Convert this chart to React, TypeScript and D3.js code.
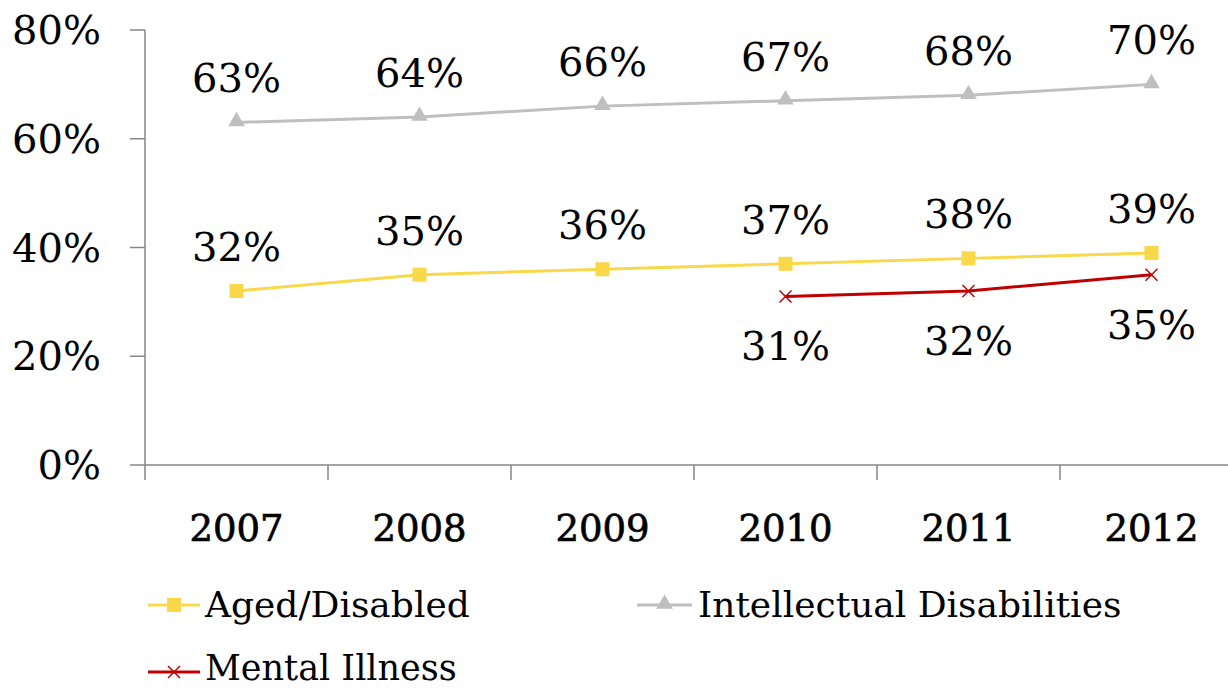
import React from "react";
import * as d3 from "d3";

const years = ["2007", "2008", "2009", "2010", "2011", "2012"];
const aged = [32, 35, 36, 37, 38, 39];
const intellectual = [63, 64, 66, 67, 68, 70];
const mentalYears = ["2010", "2011", "2012"];
const mental = [31, 32, 35];
const yTicks = [0, 20, 40, 60, 80];

const W = 1228, H = 689;
const FONT = "'DejaVu Serif', serif";

export default function App() {
  const x0 = 145, bandW = 183;
  const x = d3.scaleBand<string>().domain(years).range([x0, x0 + bandW * years.length]);
  const y = d3.scaleLinear().domain([0, 80]).range([465, 30]);
  const cx = (yr: string) => (x(yr) as number) + x.bandwidth() / 2;

  const line = d3.line<[string, number]>().x(d => cx(d[0])).y(d => y(d[1]));

  const agedPts: [string, number][] = years.map((yr, i) => [yr, aged[i]]);
  const intPts: [string, number][] = years.map((yr, i) => [yr, intellectual[i]]);
  const menPts: [string, number][] = mentalYears.map((yr, i) => [yr, mental[i]]);

  const gray = "#BFBFBF", yellow = "#F9D849", red = "#C00000";
  const tri = d3.symbol().type(d3.symbolTriangle).size(120)();

  const cross = (px: number, py: number, c: string, k: string) => (
    <g key={k} stroke={c} strokeWidth={1.5}>
      <line x1={px - 6} y1={py - 6} x2={px + 6} y2={py + 6} />
      <line x1={px - 6} y1={py + 6} x2={px + 6} y2={py - 6} />
    </g>
  );

  return (
    <svg width={W} height={H} style={{ position: "absolute", left: 0, top: 0 }} fontFamily={FONT}>
      <rect width={W} height={H} fill="#fff" />
      {/* axes */}
      <line x1={x0} y1={y(80)} x2={x0} y2={y(0)} stroke="#868686" strokeWidth={1.5} />
      <line x1={x0} y1={y(0)} x2={W} y2={y(0)} stroke="#868686" strokeWidth={1.5} />
      {yTicks.map(t => (
        <g key={t}>
          <line x1={x0 - 15} x2={x0} y1={y(t)} y2={y(t)} stroke="#868686" strokeWidth={1.5} />
          <text x={101} y={y(t) + 14} fontSize={40} textAnchor="end" fill="#000">{t}%</text>
        </g>
      ))}
      {d3.range(years.length + 1).map(i => (
        <line key={i} x1={x0 + i * bandW} x2={x0 + i * bandW} y1={y(0)} y2={y(0) + 15} stroke="#868686" strokeWidth={1.5} />
      ))}
      {years.map(yr => (
        <text key={yr} x={cx(yr)} y={541} fontSize={37} textAnchor="middle" fill="#000" stroke="#000" strokeWidth={0.7}>{yr}</text>
      ))}
      {/* lines */}
      <path d={line(intPts) || ""} fill="none" stroke={gray} strokeWidth={3} />
      <path d={line(agedPts) || ""} fill="none" stroke={yellow} strokeWidth={3} />
      <path d={line(menPts) || ""} fill="none" stroke={red} strokeWidth={3} />
      {intPts.map(([yr, v]) => (
        <path key={"t" + yr} d={tri || ""} transform={`translate(${cx(yr)},${y(v) - 1})`} fill={gray} />
      ))}
      {agedPts.map(([yr, v]) => (
        <rect key={"s" + yr} x={cx(yr) - 7} y={y(v) - 7} width={14} height={14} fill={yellow} />
      ))}
      {menPts.map(([yr, v]) => cross(cx(yr), y(v), red, "c" + yr))}
      {/* labels */}
      {intPts.map(([yr, v]) => (
        <text key={"li" + yr} x={cx(yr)} y={y(v) - 30} fontSize={40} textAnchor="middle">{v}%</text>
      ))}
      {agedPts.map(([yr, v]) => (
        <text key={"la" + yr} x={cx(yr)} y={y(v) - 30} fontSize={40} textAnchor="middle">{v}%</text>
      ))}
      {menPts.map(([yr, v]) => (
        <text key={"lm" + yr} x={cx(yr)} y={y(v) + 64} fontSize={40} textAnchor="middle">{v}%</text>
      ))}
      {/* legend */}
      <g>
        <line x1={148} x2={200} y1={605} y2={605} stroke={yellow} strokeWidth={3} />
        <rect x={167} y={598} width={14} height={14} fill={yellow} />
        <text x={205} y={617} fontSize={36} fill="#000">Aged/Disabled</text>
        <line x1={637} x2={692} y1={605} y2={605} stroke={gray} strokeWidth={3} />
        <path d={tri || ""} transform={`translate(664.5,604)`} fill={gray} />
        <text x={698} y={617} fontSize={36} fill="#000">Intellectual Disabilities</text>
        <line x1={148} x2={200} y1={672} y2={672} stroke={red} strokeWidth={3} />
        {cross(174, 672, red, "legc")}
        <text x={205} y={680} fontSize={35} fill="#000">Mental Illness</text>
      </g>
    </svg>
  );
}
